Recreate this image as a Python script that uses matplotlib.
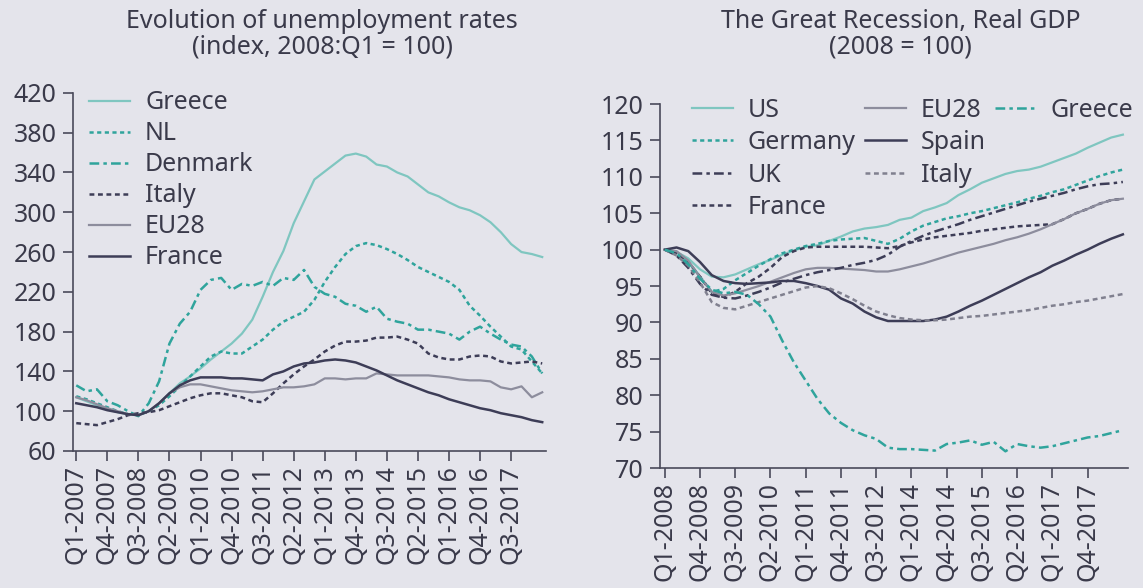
import numpy as np
import matplotlib
matplotlib.use("Agg")
import matplotlib.pyplot as plt
from matplotlib.lines import Line2D

plt.rcParams.update({"font.family": ["Noto Sans", "DejaVu Sans"], "font.size": 18,
                     "lines.scale_dashes": False})

BG = "#e4e4eb"
TXT = "#3a3a4a"
LTEAL = "#7fc6c0"
TEAL = "#2fa49c"
DARK = "#3d3d57"
GRAY = "#8d8d9d"

# --- left: unemployment index, Q1-2007 .. Q2-2018 ---
L_TICKS = ["Q1-2007", "Q4-2007", "Q3-2008", "Q2-2009", "Q1-2010", "Q4-2010", "Q3-2011",
           "Q2-2012", "Q1-2013", "Q4-2013", "Q3-2014", "Q2-2015", "Q1-2016", "Q4-2016", "Q3-2017"]
greece_u = [114, 110, 106, 102, 99, 97, 96, 100, 108, 118, 128, 135, 143, 152, 160, 168, 178, 192,
            215, 240, 261, 289, 311, 333, 341, 349, 357, 359, 356, 348, 346, 340, 336, 328, 320, 316,
            310, 305, 302, 297, 290, 280, 268, 260, 258, 255]
nl_u = [115, 112, 108, 104, 100, 97, 96, 100, 106, 115, 125, 135, 145, 155, 160, 158, 158, 165,
        172, 182, 190, 195, 200, 212, 230, 245, 258, 266, 269, 267, 263, 258, 252, 245, 240, 235,
        230, 222, 206, 196, 185, 175, 165, 162, 150, 138]
denmark_u = [126, 120, 122, 110, 106, 100, 95, 108, 130, 168, 188, 200, 222, 232, 234, 222, 228,
             226, 230, 226, 234, 232, 242, 225, 218, 215, 208, 206, 200, 205, 193, 190, 188, 182,
             182, 180, 178, 172, 180, 185, 178, 172, 167, 165, 155, 138]
italy_u = [88, 87, 86, 89, 92, 96, 98, 99, 101, 105, 109, 113, 116, 118, 118, 116, 114, 110, 109,
           118, 128, 137, 145, 152, 160, 166, 170, 170, 171, 174, 174, 175, 172, 168, 158, 154, 152,
           152, 155, 156, 155, 150, 148, 149, 150, 148]
eu28_u = [114, 111, 107, 103, 100, 97, 96, 100, 108, 118, 124, 127, 127, 125, 123, 121, 120, 119,
          120, 122, 124, 124, 125, 127, 133, 133, 132, 133, 133, 138, 137, 136, 136, 136, 136, 135,
          134, 132, 131, 131, 130, 124, 122, 125, 114, 119]
france_u = [108, 106, 104, 101, 99, 97, 96, 100, 108, 118, 126, 131, 134, 134, 134, 133, 133, 132,
            131, 137, 140, 145, 148, 149, 151, 152, 151, 149, 145, 141, 136, 131, 127, 123, 119,
            116, 112, 109, 106, 103, 101, 98, 96, 94, 91, 89]

# --- right: real GDP index ---
R_TICKS = ["Q1-2008", "Q4-2008", "Q3-2009", "Q2-2010", "Q1-2011", "Q4-2011", "Q3-2012",
           "Q1-2014", "Q4-2014", "Q3-2015", "Q2-2016", "Q1-2017", "Q4-2017"]
us_g = [100, 99.7, 98.8, 97.3, 96.3, 96.2, 96.6, 97.3, 98, 98.6, 99.3, 99.9, 100.4, 100.6, 101.2,
        101.8, 102.5, 102.9, 103.1, 103.4, 104.1, 104.4, 105.3, 105.8, 106.4, 107.5, 108.3, 109.2,
        109.8, 110.4, 110.8, 111, 111.4, 112, 112.6, 113.2, 114, 114.7, 115.4, 115.8]
germany_g = [100, 99.5, 98.3, 96.3, 94.2, 94.6, 95.8, 96.8, 97.8, 98.7, 99.5, 100, 100.5, 100.8,
             101.2, 101.4, 101.5, 101.6, 101.2, 100.8, 101.5, 102.5, 103.3, 103.8, 104.3, 104.6,
             105, 105.3, 105.7, 106.1, 106.5, 107, 107.4, 107.9, 108.3, 108.9, 109.5, 110.1, 110.6,
             111]
uk_g = [100, 99.2, 97.5, 95.3, 93.8, 93.4, 93.3, 93.7, 94.2, 94.8, 95.5, 96, 96.5, 96.9, 97.2,
        97.5, 97.9, 98.2, 98.6, 99.3, 100.4, 101.2, 101.9, 102.5, 103, 103.5, 104.1, 104.6, 105.1,
        105.6, 106.1, 106.6, 107, 107.4, 107.8, 108.3, 108.7, 109, 109.1, 109.3]
france_g = [100, 99.6, 98.3, 96.3, 94, 93.5, 94.2, 95.4, 96.3, 97.5, 99, 99.8, 100.3, 100.4, 100.4,
            100.4, 100.4, 100.4, 100.3, 100.2, 100.5, 101, 101.4, 101.7, 101.9, 102.1, 102.3, 102.6,
            102.8, 103, 103.2, 103.3, 103.4, 103.5, 104.2, 105, 105.6, 106.3, 106.8, 107]
eu28_g = [100, 99.8, 98.5, 96.2, 94.2, 93.7, 94, 94.5, 95, 95.6, 96.2, 96.8, 97.3, 97.5, 97.5, 97.4,
          97.3, 97.2, 97, 97, 97.3, 97.7, 98.1, 98.6, 99.1, 99.6, 100, 100.4, 100.8, 101.3, 101.7,
          102.2, 102.8, 103.5, 104.2, 105, 105.6, 106.3, 106.8, 107]
spain_g = [100, 100.3, 99.8, 98.3, 96.5, 95.7, 95.4, 95.3, 95.4, 95.5, 95.7, 95.7, 95.4, 95, 94.5,
           93.3, 92.6, 91.5, 90.7, 90.2, 90.2, 90.2, 90.2, 90.4, 90.8, 91.5, 92.3, 93, 93.8, 94.6,
           95.4, 96.2, 96.9, 97.8, 98.5, 99.3, 100, 100.8, 101.5, 102.1]
italy_g = [100, 99.2, 97.8, 95.5, 92.8, 92, 91.8, 92.3, 92.8, 93.3, 93.8, 94.3, 94.8, 95, 94.7, 94,
           93.2, 92.3, 91.5, 91, 90.6, 90.4, 90.3, 90.3, 90.4, 90.6, 90.8, 90.9, 91.1, 91.3, 91.5,
           91.7, 92, 92.3, 92.5, 92.8, 93, 93.3, 93.6, 93.9]
greece_g = [100, 99.5, 98, 96, 94.5, 94, 94.2, 93.8, 92.5, 90.8, 87.5, 84.5, 82, 79.5, 77.5, 76.2,
            75.2, 74.5, 74, 72.8, 72.6, 72.6, 72.5, 72.4, 73.3, 73.5, 73.8, 73.2, 73.6, 72.3, 73.3,
            73, 72.8, 73, 73.4, 73.8, 74.2, 74.4, 74.8, 75.2]

DASHDOT = (0, (7, 3, 2.5, 3))
SHORT = (0, (3, 2.5))
DASH = (0, (3.5, 2.6))
LEG = dict(frameon=False, handlelength=1.65, handletextpad=0.6, borderaxespad=0,
           labelcolor=TXT, fontsize=18)

fig = plt.figure(figsize=(11.43, 5.88), dpi=100, facecolor=BG)
ax1 = fig.add_axes([0.064, 0.233, 0.414, 0.609], facecolor=BG)
ax2 = fig.add_axes([0.5775, 0.204, 0.409, 0.619], facecolor=BG)

xl = np.arange(len(greece_u))
ax1.plot(xl, greece_u, color=LTEAL, lw=1.6, label="Greece")
ax1.plot(xl, nl_u, color=TEAL, lw=1.8, ls=SHORT, label="NL")
ax1.plot(xl, denmark_u, color=TEAL, lw=1.8, ls=DASHDOT, label="Denmark")
ax1.plot(xl, italy_u, color=DARK, lw=1.8, ls=DASH, label="Italy")
ax1.plot(xl, eu28_u, color=GRAY, lw=1.6, label="EU28")
ax1.plot(xl, france_u, color=DARK, lw=1.8, label="France")
ax1.set_ylim(60, 420)
ax1.set_yticks(range(60, 421, 40))
ax1.set_xlim(-0.3, 45.4)
ax1.set_xticks(np.arange(0, 3 * len(L_TICKS), 3))
ax1.set_xticklabels(L_TICKS, rotation=90)
ax1.legend(loc="upper left", bbox_to_anchor=(0.012, 1.035), labelspacing=0.24, **LEG)
fig.text(0.282, 0.985, "Evolution of unemployment rates\n(index, 2008:Q1 = 100)", color=TXT,
         fontsize=18, linespacing=1.02, ha="center", va="top")

xr = np.arange(len(us_g))
h_us, = ax2.plot(xr, us_g, color=LTEAL, lw=1.6)
h_ge, = ax2.plot(xr, germany_g, color=TEAL, lw=1.8, ls=SHORT)
h_fr, = ax2.plot(xr, france_g, color=DARK, lw=1.8, ls=DASH)
h_eu, = ax2.plot(xr, eu28_g, color=GRAY, lw=1.6)
h_uk, = ax2.plot(xr, uk_g, color=DARK, lw=1.8, ls=DASHDOT)
h_sp, = ax2.plot(xr, spain_g, color=DARK, lw=1.8)
h_it, = ax2.plot(xr, italy_g, color="#80808f", lw=1.8, ls=DASH)
h_gr, = ax2.plot(xr, greece_g, color=TEAL, lw=1.8, ls=DASHDOT)
ax2.set_ylim(70, 120)
ax2.set_yticks(range(70, 121, 5))
ax2.set_xlim(-0.4, 39.4)
ax2.set_xticks(np.arange(0, 3 * len(R_TICKS), 3))
ax2.set_xticklabels(R_TICKS, rotation=90)
blank = Line2D([], [], alpha=0)
handles = [h_us, h_ge, h_uk, h_fr, h_eu, h_sp, h_it, blank, h_gr, blank, blank, blank]
labels = ["US", "Germany", "UK", "France", "EU28", "Spain", "Italy", "", "Greece", "", "", ""]
ax2.legend(handles, labels, ncol=3, loc="upper left", bbox_to_anchor=(0.046, 1.045),
           columnspacing=0.35, labelspacing=0.3, **LEG)
fig.text(0.788, 0.985, "The Great Recession, Real GDP\n(2008 = 100)", color=TXT,
         fontsize=18, linespacing=1.02, ha="center", va="top")

for ax in (ax1, ax2):
    for s in ("top", "right"):
        ax.spines[s].set_visible(False)
    for s in ("left", "bottom"):
        ax.spines[s].set_color("#4a4a5a")
        ax.spines[s].set_linewidth(1.2)
    ax.tick_params(colors="#4a4a5a", labelcolor=TXT, length=7, width=1.2, labelsize=18, pad=5)
    ax.tick_params(axis="x", pad=3)

fig.savefig("out.png", dpi=100, facecolor=BG)
